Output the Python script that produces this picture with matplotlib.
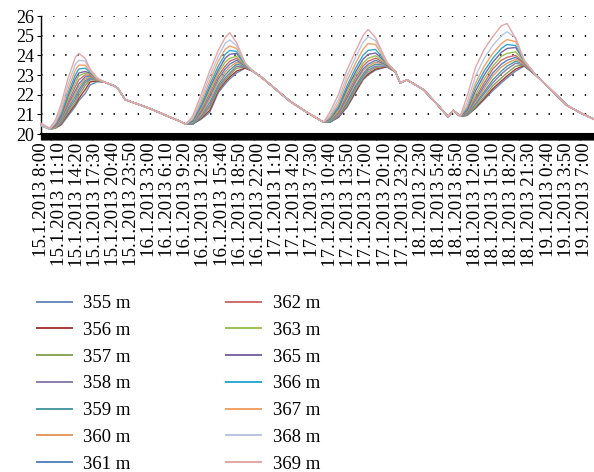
import matplotlib
matplotlib.use("Agg")
import matplotlib.pyplot as plt
import numpy as np

plt.rcParams['font.family'] = ['Liberation Serif', 'DejaVu Serif']
plt.rcParams['lines.scale_dashes'] = False

# time grid: hours after 15.1.2013 8:00
TIME_H = [0, 1.5, 2.5, 3.5, 4.7, 6.0, 6.6, 7.7, 8.6, 9.8, 11.0, 12.8, 13.5, 14.7, 19.0, 22.6, 24.3, 25.3,
          26.5, 28.0, 29.5, 31.0, 32.2, 33.0, 34.2, 35.7, 37.0, 38.5, 43.6, 46.5, 49.4,
          50.5, 52.0, 53.5, 55.0, 56.3, 57.2, 58.5, 60.5, 62.0, 62.8, 64.0, 64.6, 66.9, 69.3, 71.2, 72.1, 73.3,
          74.5, 76.0, 77.5, 79.0, 80.5, 81.5, 83.0, 84.5, 86.5, 89.0, 92.0, 94.5, 96.7]

SERIES = ["355 m", "356 m", "357 m", "358 m", "359 m", "360 m", "361 m",
          "362 m", "363 m", "365 m", "366 m", "367 m", "368 m", "369 m"]

COLORS = ['#6A8CBA', '#A83A38', '#8AA55A', '#8B7DAB', '#4B9AA2', '#E39A60', '#5A84C0',
          '#D06C6A', '#9BC152', '#7D66A6', '#2FA9D2', '#F2A264', '#B7C6DF', '#E6A6A4']

# shared segments (all depths practically equal)
START = [20.45, 20.25]
START_TOP = [20.55, 20.30]
NIGHT_1 = [22.65, 22.45, 22.3, 21.75, 21.3, 20.85, 20.65, 20.5]
NIGHT_2 = [23.2, 22.9, 21.65, 21.1, 20.6]
NIGHT_3 = [23.15, 22.6, 22.75, 22.65, 22.25, 21.5, 20.87, 21.2, 20.9]
NIGHT_4 = [23.0, 22.3, 21.45, 21.05, 20.75]

# daytime segments per depth
DAY_1 = {
    "369 m": [20.7, 21.5, 22.8, 23.9, 24.1, 23.85, 23.3, 22.85],
    "368 m": [20.6, 21.3, 22.5, 23.55, 23.75, 23.7, 23.25, 22.85],
    "367 m": [20.55, 21.15, 22.25, 23.25, 23.5, 23.5, 23.2, 22.8],
    "366 m": [20.5, 21.0, 22.05, 23.0, 23.3, 23.35, 23.15, 22.8],
    "365 m": [20.45, 20.9, 21.9, 22.8, 23.1, 23.18, 23.1, 22.8],
    "363 m": [20.45, 20.85, 21.75, 22.6, 22.95, 23.1, 23.05, 22.75],
    "362 m": [20.4, 20.8, 21.6, 22.4, 22.75, 23.0, 23.0, 22.75],
    "361 m": [20.4, 20.75, 21.5, 22.2, 22.55, 22.9, 22.95, 22.75],
    "360 m": [20.35, 20.7, 21.4, 22.05, 22.4, 22.8, 22.9, 22.75],
    "359 m": [20.35, 20.65, 21.3, 21.9, 22.25, 22.7, 22.85, 22.75],
    "358 m": [20.35, 20.6, 21.2, 21.75, 22.1, 22.6, 22.8, 22.75],
    "357 m": [20.3, 20.55, 21.1, 21.6, 21.95, 22.45, 22.75, 22.75],
    "356 m": [20.3, 20.5, 21.0, 21.5, 21.8, 22.25, 22.65, 22.7],
    "355 m": [20.3, 20.45, 20.9, 21.4, 21.7, 22.05, 22.5, 22.65],
}
DAY_2 = {
    "369 m": [20.9, 22.0, 23.2, 24.25, 24.9, 25.15, 24.65, 23.6],
    "368 m": [20.8, 21.8, 22.95, 23.95, 24.6, 24.78, 24.5, 23.6],
    "367 m": [20.75, 21.65, 22.7, 23.7, 24.3, 24.48, 24.35, 23.6],
    "366 m": [20.7, 21.5, 22.5, 23.45, 24.05, 24.25, 24.2, 23.55],
    "365 m": [20.65, 21.4, 22.35, 23.25, 23.85, 24.05, 24.1, 23.55],
    "363 m": [20.6, 21.3, 22.2, 23.1, 23.65, 23.85, 23.95, 23.5],
    "362 m": [20.6, 21.2, 22.05, 22.95, 23.45, 23.7, 23.85, 23.5],
    "361 m": [20.55, 21.1, 21.9, 22.8, 23.3, 23.55, 23.75, 23.45],
    "360 m": [20.55, 21.0, 21.75, 22.65, 23.15, 23.4, 23.65, 23.45],
    "359 m": [20.5, 20.95, 21.6, 22.5, 23.0, 23.25, 23.55, 23.45],
    "358 m": [20.5, 20.9, 21.45, 22.4, 22.85, 23.1, 23.45, 23.4],
    "357 m": [20.5, 20.85, 21.35, 22.3, 22.75, 23.0, 23.35, 23.4],
    "356 m": [20.5, 20.8, 21.2, 22.2, 22.65, 22.9, 23.2, 23.35],
    "355 m": [20.5, 20.75, 21.1, 22.1, 22.55, 22.8, 23.1, 23.35],
}
DAY_3 = {
    "369 m": [21.1, 22.0, 23.25, 24.2, 25.0, 25.32, 24.9, 23.65],
    "368 m": [20.95, 21.75, 22.95, 23.9, 24.65, 24.95, 24.75, 23.65],
    "367 m": [20.85, 21.55, 22.7, 23.6, 24.3, 24.6, 24.55, 23.6],
    "366 m": [20.8, 21.4, 22.45, 23.35, 24.0, 24.25, 24.3, 23.6],
    "365 m": [20.75, 21.3, 22.3, 23.15, 23.8, 24.05, 24.12, 23.6],
    "363 m": [20.7, 21.2, 22.15, 23.0, 23.6, 23.85, 23.98, 23.55],
    "362 m": [20.7, 21.1, 22.0, 22.85, 23.45, 23.7, 23.86, 23.55],
    "361 m": [20.65, 21.05, 21.85, 22.7, 23.3, 23.55, 23.75, 23.5],
    "360 m": [20.65, 21.0, 21.75, 22.6, 23.2, 23.45, 23.65, 23.5],
    "359 m": [20.6, 20.95, 21.65, 22.45, 23.05, 23.35, 23.55, 23.5],
    "358 m": [20.6, 20.9, 21.55, 22.35, 22.95, 23.25, 23.45, 23.45],
    "357 m": [20.6, 20.9, 21.45, 22.25, 22.85, 23.15, 23.38, 23.45],
    "356 m": [20.6, 20.85, 21.4, 22.15, 22.8, 23.05, 23.3, 23.42],
    "355 m": [20.6, 20.85, 21.35, 22.1, 22.75, 23.0, 23.25, 23.42],
}
DAY_4 = {
    "369 m": [21.9, 23.4, 24.3, 24.95, 25.5, 25.62, 24.85, 23.7],
    "368 m": [21.6, 22.95, 23.85, 24.5, 25.0, 25.2, 24.9, 23.75],
    "367 m": [21.4, 22.6, 23.45, 24.1, 24.6, 24.8, 24.7, 23.75],
    "366 m": [21.3, 22.4, 23.2, 23.85, 24.35, 24.55, 24.5, 23.7],
    "365 m": [21.2, 22.2, 23.0, 23.65, 24.15, 24.35, 24.4, 23.7],
    "363 m": [21.15, 22.0, 22.8, 23.45, 23.95, 24.1, 24.18, 23.65],
    "362 m": [21.1, 21.85, 22.6, 23.3, 23.75, 23.9, 24.0, 23.6],
    "361 m": [21.05, 21.75, 22.45, 23.1, 23.55, 23.75, 23.9, 23.6],
    "360 m": [21.05, 21.65, 22.3, 22.95, 23.4, 23.6, 23.8, 23.55],
    "359 m": [21.0, 21.55, 22.15, 22.75, 23.2, 23.45, 23.7, 23.55],
    "358 m": [21.0, 21.5, 22.05, 22.6, 23.05, 23.3, 23.6, 23.5],
    "357 m": [20.95, 21.4, 21.9, 22.45, 22.85, 23.1, 23.45, 23.5],
    "356 m": [20.95, 21.35, 21.8, 22.3, 22.7, 22.95, 23.3, 23.48],
    "355 m": [20.95, 21.3, 21.75, 22.2, 22.6, 22.85, 23.2, 23.45],
}

TICK_LABELS = ["15.1.2013 8:00", "15.1.2013 11:10", "15.1.2013 14:20", "15.1.2013 17:30",
               "15.1.2013 20:40", "15.1.2013 23:50", "16.1.2013 3:00", "16.1.2013 6:10",
               "16.1.2013 9:20", "16.1.2013 12:30", "16.1.2013 15:40", "16.1.2013 18:50",
               "16.1.2013 22:00", "17.1.2013 1:10", "17.1.2013 4:20", "17.1.2013 7:30",
               "17.1.2013 10:40", "17.1.2013 13:50", "17.1.2013 17:00", "17.1.2013 20:10",
               "17.1.2013 23:20", "18.1.2013 2:30", "18.1.2013 5:40", "18.1.2013 8:50",
               "18.1.2013 12:00", "18.1.2013 15:10", "18.1.2013 18:20", "18.1.2013 21:30",
               "19.1.2013 0:40", "19.1.2013 3:50", "19.1.2013 7:00"]
TICK_STEP_H = 19 / 6.0      # 3 h 10 min between labels
SAMPLE_H = 1 / 6.0          # 10 min sampling

W, H = 594, 472
fig = plt.figure(figsize=(W / 100, H / 100), dpi=100)
ax = fig.add_axes([41 / W, 1 - 134 / H, 1 - 41 / W, (134 - 16) / H])

t = np.array(TIME_H)
for name, col in zip(SERIES, COLORS):
    start = START_TOP if name == "369 m" else START
    vals = start + DAY_1[name] + NIGHT_1 + DAY_2[name] + NIGHT_2 + DAY_3[name] + NIGHT_3 + DAY_4[name] + NIGHT_4
    ax.plot(t, vals, color=col, lw=1.0, label=name, zorder=3, clip_on=False)

ax.set_xlim(0, TIME_H[-1])
ax.set_ylim(20, 26)
ax.set_yticks(range(20, 27))
ax.tick_params(axis='y', labelsize=13, length=3, width=0.8, direction='out', pad=2)

for yv in range(21, 27):
    ax.axhline(yv, color='black', lw=1.3, linestyle=(0, (1.0, 7.7)), zorder=1)

major = [i * TICK_STEP_H for i in range(len(TICK_LABELS))]
ax.set_xticks(major)
ax.set_xticklabels(TICK_LABELS, rotation=90, fontsize=13.6)
ax.set_xticks(np.arange(0, TIME_H[-1], SAMPLE_H), minor=True)
ax.tick_params(axis='x', which='both', length=4, width=0.9, direction='out', pad=2)

for s in ['top', 'right']:
    ax.spines[s].set_visible(False)
ax.spines['left'].set_linewidth(1.0)
ax.spines['bottom'].set_linewidth(1.5)

handles, labels = ax.get_legend_handles_labels()
leg = fig.legend(handles, labels, ncol=2, frameon=False, loc='upper left',
                 bbox_to_anchor=(37 / W, 1 - 295 / H), borderpad=0, borderaxespad=0,
                 fontsize=13.5, handlelength=1.85, handletextpad=0.62, columnspacing=5.1,
                 labelspacing=0.515)
for ln in leg.get_lines():
    ln.set_linewidth(1.4)

fig.savefig("out.png", dpi=100)
